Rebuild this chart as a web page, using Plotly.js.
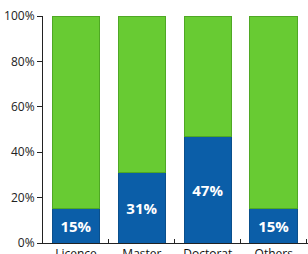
<!DOCTYPE html>
<html><head><meta charset="utf-8">
<script src="https://cdn.plot.ly/plotly-3.0.1.min.js"></script>
<style>html,body{margin:0;padding:0;overflow:hidden;background:#fff}</style>
</head><body><div id="c" style="width:308px;height:254px"></div>
<script>
var categories = ["Licence", "Master", "Doctorat", "Others"];
var bluePct = [15, 31, 47, 15];
var greenPct = [85, 69, 53, 85];
var labels = ["15%", "31%", "47%", "15%"];

var traces = [
  {type:'bar', x:categories, y:bluePct, text:labels, textposition:'inside',
   insidetextanchor:'middle', textangle:0,
   textfont:{family:'Open Sans', size:15, color:'#ffffff', weight:'bold'},
   marker:{color:'#0b5ea8', line:{color:'#0a4f8c', width:1}}, hoverinfo:'none'},
  {type:'bar', x:categories, y:greenPct, hoverinfo:'none',
   marker:{color:'#68cb33', line:{color:'#4fa824', width:1}}}
];
var layout = {
  width:308, height:254, barmode:'stack', bargap:0.28, showlegend:false,
  margin:{l:43, r:0, t:16, b:11},
  paper_bgcolor:'#fff', plot_bgcolor:'#fff',
  font:{family:'Open Sans', color:'#222'},
  xaxis:{type:'category', range:[-0.5,3.52], showline:true, linecolor:'#222', linewidth:1,
         ticks:'inside', tickson:'boundaries', ticklen:4, tickcolor:'#222',
         tickfont:{size:12, color:'#111'}, showgrid:false, zeroline:false, automargin:false},
  yaxis:{range:[0,100], tickvals:[0,20,40,60,80,100], ticktext:['0%','20%','40%','60%','80%','100%'],
         showline:true, linecolor:'#222', linewidth:1, ticks:'outside', ticklen:5, tickcolor:'#222',
         tickfont:{size:12, color:'#222'}, showgrid:false, zeroline:false, automargin:false}
};
Plotly.newPlot('c', traces, layout, {staticPlot:true, displayModeBar:false});
</script></body></html>
